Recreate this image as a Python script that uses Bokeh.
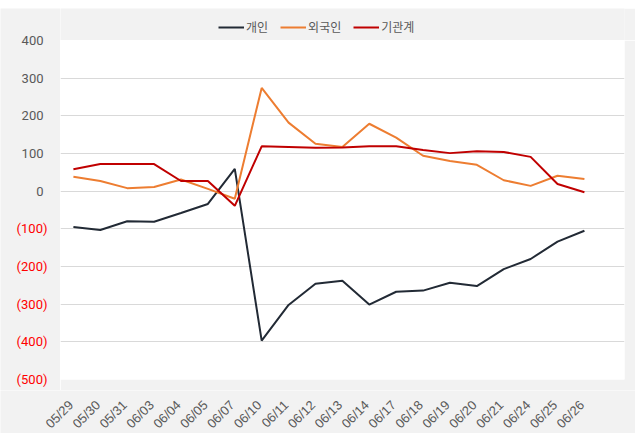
import math
from bokeh.plotting import figure
from bokeh.models import (ColumnDataSource, Legend, LegendItem, FixedTicker, Range1d, Spacer)
from bokeh.layouts import column, row
from bokeh.core.properties import value
from bokeh.embed import file_html
from bokeh.resources import INLINE

dates = ["05/29", "05/30", "05/31", "06/03", "06/04", "06/05", "06/07", "06/10", "06/11", "06/12",
         "06/13", "06/14", "06/17", "06/18", "06/19", "06/20", "06/21", "06/24", "06/25", "06/26"]
individual = [-95, -103, -80, -81, -58, -34, 59, -397, -302, -246,
              -238, -301, -267, -264, -243, -252, -207, -180, -134, -105]
foreign = [38, 27, 8, 11, 31, 6, -20, 274, 182, 126,
           117, 179, 142, 94, 80, 70, 29, 14, 41, 32]
institution = [58, 72, 72, 72, 27, 27, -39, 119, 117, 115,
               116, 119, 119, 109, 101, 106, 104, 91, 19, -3]
y_ticks = [400, 300, 200, 100, 0, -100, -200, -300, -400, -500]

series_names = ["개인", "외국인", "기관계"]
colors = ["#222a35", "#ED7D31", "#C00000"]

BG = "#f2f2f2"
TXT = "#595959"
xs = list(range(len(dates)))
Y_MIN, Y_MAX = -500, 400
X_MIN, X_MAX = -0.48, len(dates) + 0.49

# layout geometry (pixels)
W = 635
LEFT, RIGHT = 60, 11
TOP_STRIP = 32
FRAME_H = 339
P_BOTTOM = 11
XL_H = 43
FRAME_W = W - LEFT - RIGHT
upp = (Y_MAX - Y_MIN) / FRAME_H
ppu = FRAME_W / (X_MAX - X_MIN)


def strip(width, height, xr, yr):
    f = figure(width=width, height=height, output_backend="svg", toolbar_location=None,
               x_range=xr, y_range=yr,
               min_border_left=0, min_border_right=0, min_border_top=0, min_border_bottom=0)
    f.background_fill_color = BG
    f.border_fill_color = BG
    f.outline_line_color = None
    f.axis.visible = False
    f.grid.visible = False
    return f


# ---- main chart
p = figure(frame_width=FRAME_W, frame_height=FRAME_H, output_backend="svg", toolbar_location=None,
           x_range=Range1d(X_MIN, X_MAX), y_range=Range1d(Y_MIN, Y_MAX),
           min_border_left=0, min_border_right=RIGHT, min_border_top=0, min_border_bottom=P_BOTTOM)
p.background_fill_color = "white"
p.border_fill_color = BG
p.outline_line_color = None
p.axis.visible = False

for vals, c in zip([individual, foreign, institution], colors):
    src = ColumnDataSource(dict(x=xs, y=vals))
    p.line("x", "y", source=src, line_color=c, line_width=2)

p.xgrid.visible = False
p.ygrid.ticker = FixedTicker(ticks=y_ticks)
p.ygrid.grid_line_color = "#d9d9d9"
p.ygrid.grid_line_width = 1

# ---- y labels strip (negative values in red)
yl = strip(LEFT, TOP_STRIP + FRAME_H + P_BOTTOM, Range1d(0, LEFT),
           Range1d(Y_MIN - P_BOTTOM * upp, Y_MAX + TOP_STRIP * upp))
ylab_src = ColumnDataSource(dict(
    y=y_ticks,
    x=[43 if v >= 0 else 47 for v in y_ticks],
    text=[f"{v:,}" if v >= 0 else f"({-v:,})" for v in y_ticks],
    color=[TXT if v >= 0 else "#FF0000" for v in y_ticks],
))
yl.text(x="x", y="y", text="text", source=ylab_src, text_color="color",
        text_align="right", text_baseline="middle",
        text_font=value("Roboto"), text_font_size="13px")

# ---- x labels strip (rotated category labels)
xl = strip(W, XL_H, Range1d(X_MIN - LEFT / ppu, X_MAX + RIGHT / ppu), Range1d(0, XL_H))
xlab_src = ColumnDataSource(dict(x=[i - 0.29 for i in xs], y=[XL_H - 7] * len(xs), text=dates))
xl.text(x="x", y="y", text="text", source=xlab_src, angle=math.pi / 4,
        text_align="right", text_baseline="top", text_color=TXT,
        text_font=value("Liberation Sans"), text_font_size="13px")

# ---- legend strip
lg = strip(FRAME_W + RIGHT, TOP_STRIP, Range1d(0, 1), Range1d(0, 1))
dummies = []
for c in colors:
    dummies.append(lg.line(x=[5, 6], y=[5, 5], line_color=c, line_width=2))
legend = Legend(items=[LegendItem(label=n, renderers=[r]) for n, r in zip(series_names, dummies)],
                orientation="horizontal", location=(158, 5),
                background_fill_alpha=0, border_line_color=None,
                label_text_font="Noto Sans CJK KR", label_text_font_size="12px",
                label_text_color=TXT, glyph_width=26, glyph_height=12,
                label_standoff=2, spacing=12, padding=0, margin=0)
lg.add_layout(legend, "center")

layout = column(Spacer(height=8, width=W),
                row(yl, column(lg, p, spacing=0), spacing=0),
                xl,
                spacing=0)
open("out.html", "w").write(file_html(layout, INLINE))
